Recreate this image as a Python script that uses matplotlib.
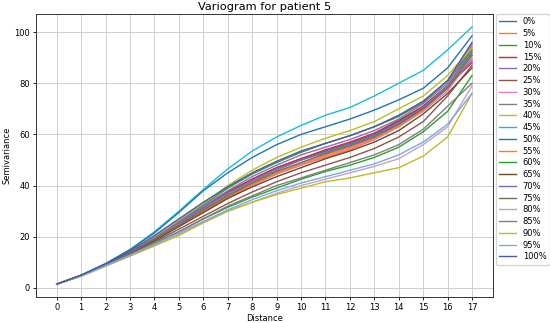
import numpy as np
import matplotlib
matplotlib.use("Agg")
import matplotlib.pyplot as plt

distance = list(range(18))

labels = ['0%', '5%', '10%', '15%', '20%', '25%', '30%', '35%', '40%', '45%',
          '50%', '55%', '60%', '65%', '70%', '75%', '80%', '85%', '90%', '95%', '100%']

colors = ['#1f77b4', '#ff7f0e', '#2ca02c', '#d62728', '#9467bd', '#8c564b',
          '#e377c2', '#7f7f7f', '#bcbd22', '#17becf',
          '#1f77b4', '#ff7f0e', '#2ca02c', '#6b4a2b', '#7070c0', '#7a6a5a',
          '#c0a0d0', '#7f7f7f', '#bcbd22', '#7fa8e0', '#4a5aa8']

# semivariance per threshold
v00 = [1.5, 4.9, 9.2, 14.0, 19.5, 25.5, 31.5, 37.5, 42.5, 47.0, 50.5, 53.5, 56.5, 60.0, 65.0, 71.0, 79.0, 92.0]
v05 = [1.5, 4.9, 9.1, 13.8, 19.0, 24.5, 30.0, 35.5, 40.5, 44.5, 48.0, 51.0, 54.0, 58.0, 63.0, 70.0, 79.0, 94.0]
v10 = [1.5, 5.0, 9.3, 14.3, 20.0, 26.0, 32.5, 39.0, 44.5, 49.0, 53.0, 56.5, 59.5, 63.0, 67.0, 72.5, 81.0, 93.0]
v15 = [1.5, 4.9, 9.2, 14.0, 19.5, 25.5, 31.5, 37.5, 42.5, 47.0, 50.5, 54.0, 57.0, 60.5, 65.5, 71.0, 79.0, 88.0]
v20 = [1.5, 5.0, 9.3, 14.3, 20.0, 26.0, 32.0, 38.0, 43.5, 48.0, 52.0, 55.0, 58.0, 61.5, 66.0, 72.0, 80.0, 95.0]
v25 = [1.5, 4.8, 9.0, 13.5, 18.0, 23.0, 28.0, 33.0, 37.5, 41.5, 45.0, 48.0, 51.0, 54.5, 59.0, 65.0, 75.0, 87.0]
v30 = [1.5, 4.8, 9.0, 13.5, 18.5, 24.0, 29.5, 35.0, 40.0, 44.5, 48.0, 51.5, 54.5, 58.0, 63.0, 69.0, 77.0, 90.0]
v35 = [1.5, 4.9, 9.2, 14.0, 19.5, 25.0, 31.0, 36.5, 41.5, 46.0, 50.0, 53.0, 56.0, 59.5, 64.0, 70.5, 79.0, 93.0]
v40 = [1.5, 5.0, 9.5, 14.5, 20.0, 26.5, 33.0, 40.0, 46.0, 51.0, 55.0, 58.5, 61.5, 65.0, 70.0, 75.0, 83.0, 94.0]
v45 = [1.5, 5.0, 9.5, 15.0, 22.0, 30.0, 38.5, 46.5, 53.5, 59.0, 63.5, 67.5, 70.5, 75.0, 80.0, 85.0, 93.0, 102.0]
v50 = [1.5, 5.0, 9.5, 15.0, 21.5, 29.5, 38.0, 45.0, 51.0, 56.0, 60.0, 63.0, 66.0, 69.5, 73.5, 78.0, 86.0, 98.5]
v55 = [1.5, 4.9, 9.1, 13.8, 19.0, 24.5, 30.0, 35.5, 40.5, 45.0, 48.5, 52.0, 55.0, 58.5, 63.5, 69.5, 78.0, 91.0]
v60 = [1.5, 4.8, 8.8, 13.0, 17.5, 22.0, 27.0, 31.5, 35.5, 39.0, 42.5, 45.5, 48.0, 51.0, 55.0, 61.0, 69.0, 83.0]
v65 = [1.5, 4.8, 9.0, 13.5, 18.5, 24.0, 29.5, 35.0, 39.5, 43.5, 47.0, 50.5, 53.5, 57.0, 61.5, 68.0, 76.0, 86.0]
v70 = [1.5, 4.9, 9.2, 14.0, 19.5, 25.5, 31.5, 37.0, 42.0, 46.5, 50.0, 53.0, 56.0, 59.5, 64.5, 70.5, 78.5, 89.0]
v75 = [1.5, 4.9, 9.1, 13.8, 19.0, 24.5, 30.5, 36.0, 41.0, 45.5, 49.0, 52.5, 55.5, 59.0, 64.0, 70.0, 78.0, 91.0]
v80 = [1.5, 4.7, 8.7, 12.5, 16.5, 21.0, 25.5, 30.0, 33.5, 37.0, 40.0, 42.5, 45.0, 47.5, 50.5, 56.0, 63.0, 79.0]
v85 = [1.5, 4.7, 8.8, 13.0, 17.5, 22.0, 27.0, 32.0, 36.0, 40.0, 43.0, 46.0, 49.0, 52.0, 56.0, 62.0, 71.0, 80.0]
v90 = [1.5, 4.6, 8.5, 12.5, 16.5, 20.5, 25.5, 30.0, 33.5, 36.5, 39.0, 41.5, 43.0, 45.0, 47.0, 51.5, 59.0, 76.0]
v95 = [1.5, 4.7, 8.7, 12.8, 17.0, 21.5, 26.0, 30.5, 34.5, 38.0, 41.0, 43.5, 46.0, 48.5, 52.0, 57.0, 64.0, 76.0]
v100 = [1.5, 5.0, 9.4, 14.5, 20.5, 27.0, 33.5, 39.5, 45.0, 49.5, 53.5, 56.5, 59.5, 63.0, 67.5, 73.0, 81.0, 96.0]

series = [v00, v05, v10, v15, v20, v25, v30, v35, v40, v45, v50,
          v55, v60, v65, v70, v75, v80, v85, v90, v95, v100]

fig = plt.figure(figsize=(5.5, 3.23), dpi=100)
ax = fig.add_axes([0.0655, 0.0805, 0.8305, 0.876])

for lab, col, vals in zip(labels, colors, series):
    ax.plot(distance, vals, color=col, linewidth=1.0, label=lab)

ax.set_xticks(distance)
ax.set_yticks([0, 20, 40, 60, 80, 100])
ax.tick_params(labelsize=6, length=2.5, width=0.6, pad=2)
ax.grid(True, color='#d0d0d0', linewidth=0.7)
ax.set_axisbelow(True)
for s in ax.spines.values():
    s.set_linewidth(0.7)
    s.set_color('#333333')

ax.set_xlabel('Distance', fontsize=6, labelpad=1)
ax.set_ylabel('Semivariance', fontsize=6, labelpad=2)
ax.set_title('Variogram for patient 5', fontsize=8.2, pad=3)

ax.legend(loc='upper left', bbox_to_anchor=(1.007, 1.0), fontsize=6,
          borderaxespad=0.0, handlelength=2.0, labelspacing=0.33,
          fancybox=True, framealpha=0.8)

fig.savefig('out.png', dpi=100)
